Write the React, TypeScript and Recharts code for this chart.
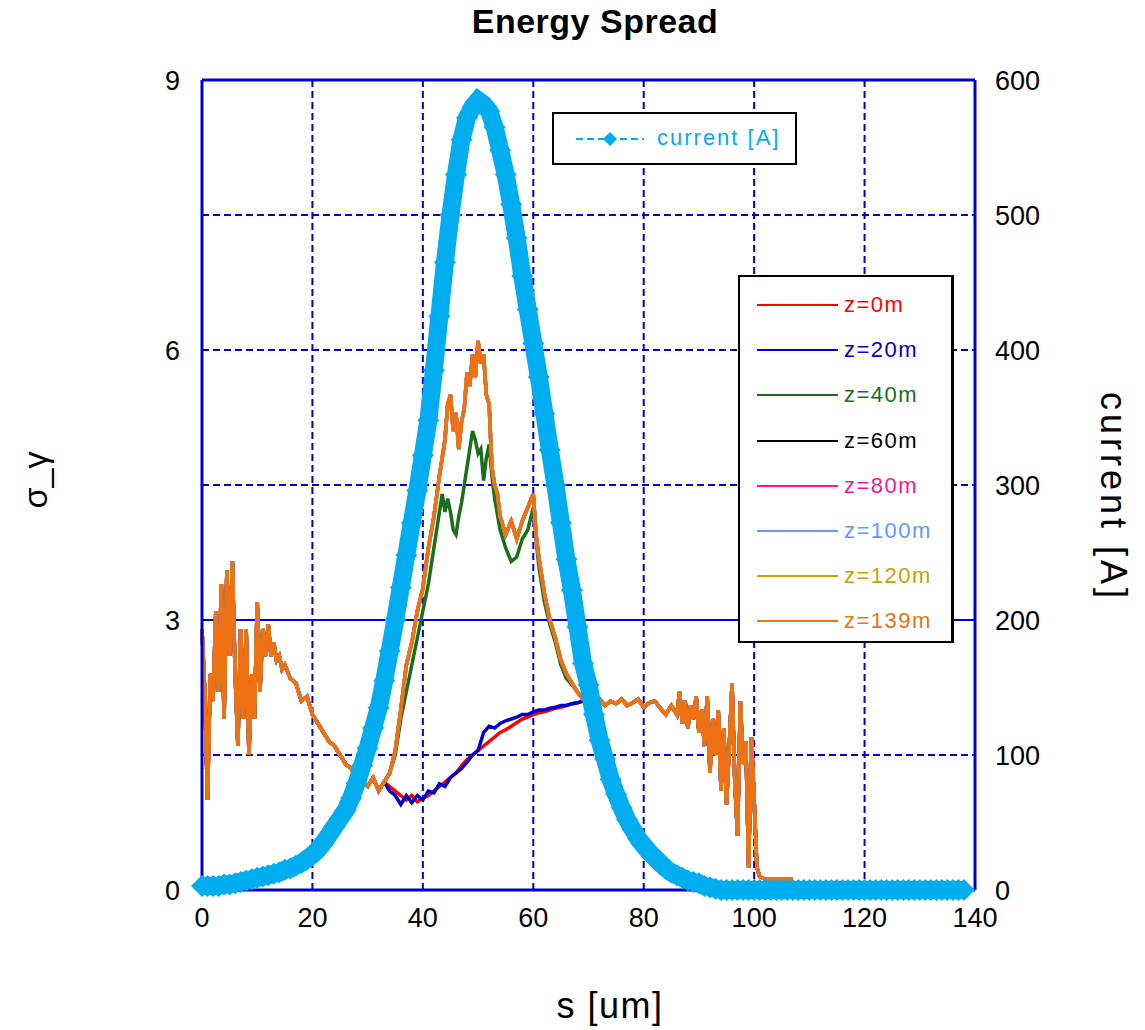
import React from 'react';
import { ComposedChart, Line, XAxis, YAxis, CartesianGrid, ReferenceLine } from 'recharts';

type Pt = [number, number];

// s [um] ticks and axis ticks
const sTicks = [0, 20, 40, 60, 80, 100, 120, 140];
const sigmaTicks = [0, 3, 6, 9];
const currentTicks = [0, 100, 200, 300, 400, 500, 600];

// energy spread, common to all z: head of the bunch (s 0..33)
const sigmaHead: Pt[] = [
  [0, 2.9], [0.5, 2.2], [1, 1.0], [1.5, 2.4], [2, 2.1], [2.5, 3.1], [3, 2.2], [3.5, 3.4],
  [4, 1.9], [4.5, 3.55], [5, 2.6], [5.5, 3.65], [6, 2.4], [6.5, 1.6], [7, 2.9], [7.5, 1.9],
  [8, 2.9], [8.5, 1.5], [9, 2.4], [9.5, 1.9], [10, 3.2], [10.5, 2.2], [11, 2.9], [11.5, 2.6],
  [12, 2.95], [12.5, 2.6], [13, 2.75], [13.5, 2.55], [14, 2.6], [14.5, 2.45], [15, 2.5],
  [16, 2.35], [17, 2.3], [18, 2.1], [19, 2.15], [20, 1.95], [21, 1.85], [22, 1.75], [23, 1.65],
  [24, 1.6], [25, 1.5], [26, 1.4], [27, 1.35], [28, 1.25], [29, 1.2], [30, 1.15], [31, 1.25],
  [32, 1.1], [33, 1.2],
];

// middle of the bunch (s 34..69), differs with z
const sigmaMid0: Pt[] = [
  [34, 1.15], [35, 1.1], [36, 1.05], [37, 1.0], [38, 1.05], [39, 0.98], [40, 1.02], [41, 1.05],
  [42, 1.1], [43, 1.15], [44, 1.2], [45, 1.25], [46, 1.3], [47, 1.38], [48, 1.45], [49, 1.5],
  [50, 1.55], [51, 1.6], [52, 1.65], [53, 1.7], [54, 1.75], [55, 1.78], [56, 1.82], [57, 1.86],
  [58, 1.9], [59, 1.92], [60, 1.95], [61, 1.97], [62, 1.98], [63, 2.0], [64, 2.02], [65, 2.03],
  [66, 2.05], [67, 2.07], [68, 2.08], [69, 2.1],
];

const sigmaMid20: Pt[] = [
  [34, 1.1], [35, 1.05], [36, 0.95], [37, 1.05], [38, 0.97], [39, 1.05], [40, 1.0], [41, 1.1],
  [42, 1.08], [43, 1.18], [44, 1.15], [45, 1.25], [46, 1.3], [47, 1.35], [48, 1.42], [49, 1.5],
  [50, 1.55], [51, 1.75], [52, 1.82], [53, 1.8], [54, 1.85], [55, 1.88], [56, 1.9], [57, 1.92],
  [58, 1.95], [59, 1.95], [60, 1.98], [61, 2.0], [62, 2.0], [63, 2.02], [64, 2.03], [65, 2.05],
  [66, 2.05], [67, 2.07], [68, 2.08], [69, 2.1],
];

const sigmaMid40: Pt[] = [
  [34, 1.3], [35, 1.5], [36, 1.9], [37, 2.2], [38, 2.5], [39, 2.8], [40, 3.1], [41, 3.4],
  [42, 3.8], [43, 4.2], [43.5, 4.4], [44, 4.2], [44.5, 4.35], [45, 4.2], [45.5, 4.0], [46, 3.95],
  [46.5, 4.15], [47, 4.3], [47.5, 4.5], [48, 4.7], [48.5, 4.9], [49, 5.1], [49.5, 5.0], [50, 4.85],
  [50.5, 4.9], [51, 4.55], [51.5, 4.8], [52, 4.95], [52.5, 4.6], [53, 4.35], [54, 4.0], [55, 3.8],
  [56, 3.65], [57, 3.7], [58, 3.9], [59, 4.0], [60, 4.25], [60.5, 3.9], [61, 3.6], [62, 3.2],
  [63, 2.95], [64, 2.75], [65, 2.5], [66, 2.35], [67, 2.28], [68, 2.2], [69, 2.12],
];

const sigmaMidHigh: Pt[] = [
  [34, 1.3], [35, 1.55], [36, 2.0], [37, 2.5], [38, 2.75], [39, 3.1], [40, 3.35], [41, 3.8],
  [42, 4.15], [43, 4.6], [44, 5.0], [44.5, 5.4], [45, 5.5], [45.5, 5.1], [46, 5.3], [46.5, 4.9],
  [47, 5.2], [47.5, 5.35], [48, 5.75], [48.5, 5.6], [49, 5.95], [49.5, 5.7], [50, 6.1], [50.5, 5.85],
  [51, 5.95], [51.5, 5.5], [52, 5.4], [52.5, 4.7], [53, 4.5], [53.5, 4.4], [54, 4.15], [55, 3.95],
  [56, 4.1], [57, 3.9], [58, 4.1], [59, 4.25], [60, 4.4], [60.5, 3.95], [61, 3.7], [62, 3.3],
  [63, 3.0], [64, 2.8], [65, 2.55], [66, 2.4], [67, 2.3], [68, 2.2], [69, 2.12],
];

// tail of the bunch (s 70..107), common to all z
const sigmaTail: Pt[] = [
  [70, 2.1], [71, 2.08], [72, 2.12], [73, 2.05], [74, 2.1], [75, 2.07], [76, 2.12], [77, 2.05],
  [78, 2.08], [79, 2.12], [80, 2.03], [81, 2.08], [82, 2.1], [83, 2.02], [84, 1.95], [85, 2.05],
  [86, 1.95], [86.5, 2.2], [87, 1.85], [87.5, 2.1], [88, 1.8], [88.5, 2.05], [89, 1.9], [89.5, 2.15],
  [90, 1.75], [90.5, 2.0], [91, 1.6], [91.5, 2.15], [92, 1.3], [92.5, 1.9], [93, 1.5], [93.5, 2.0],
  [94, 1.1], [94.5, 1.8], [95, 0.95], [95.5, 1.6], [96, 2.3], [96.5, 1.2], [97, 0.6], [97.5, 2.1],
  [98, 1.4], [98.5, 1.65], [99, 0.25], [99.5, 1.7], [100, 1.0], [100.5, 0.25], [101, 0.15],
  [102, 0.12], [103, 0.12], [104, 0.12], [105, 0.12], [106, 0.12], [107, 0.12],
];

// current [A] at s = 0, 1, 2, ... 138 um
const currentA = [
  3, 3, 3, 3, 4, 4, 5, 6, 7, 8, 9, 10, 11, 12, 13, 15, 16, 18, 20, 23,
  26, 30, 35, 41, 47, 53, 59, 68, 79, 92, 105, 120, 135, 155, 177, 200, 224, 248, 272, 296,
  322, 348, 385, 425, 465, 500, 530, 556, 572, 580, 585, 582, 577, 565, 548, 530, 508, 483, 455, 430,
  405, 380, 353, 326, 300, 272, 245, 222, 195, 168, 152, 130, 111, 97, 82, 71, 61, 52, 45, 38,
  33, 28, 24, 20, 16, 13, 11, 9, 7, 6, 5, 3, 2, 1, 0, 0, 0, 0, 0, 0,
  0, 0, 0, 0, 0, 0, 0, 0, 0, 0, 0, 0, 0, 0, 0, 0, 0, 0, 0, 0,
  0, 0, 0, 0, 0, 0, 0, 0, 0, 0, 0, 0, 0, 0, 0, 0, 0, 0, 0,
];

const zSeries = [
  { name: 'z=0m', color: '#FF0000', mid: sigmaMid0 },
  { name: 'z=20m', color: '#0000CC', mid: sigmaMid20 },
  { name: 'z=40m', color: '#1B6E1B', mid: sigmaMid40 },
  { name: 'z=60m', color: '#000000', mid: sigmaMidHigh },
  { name: 'z=80m', color: '#FF1493', mid: sigmaMidHigh },
  { name: 'z=100m', color: '#6699FF', mid: sigmaMidHigh },
  { name: 'z=120m', color: '#C9A200', mid: sigmaMidHigh },
  { name: 'z=139m', color: '#F07014', mid: sigmaMidHigh },
];

const CURRENT = '#00AEEF';
const GRID = '#0000CC';
const FONT = 'Arial, "Liberation Sans", sans-serif';

const currentData = currentA.map((v, i) => ({ s: i, v }));

const Diamond = (props: any) => {
  const { cx, cy, index } = props;
  if (cx == null || cy == null) return <g key={index} />;
  const r = 11;
  return (
    <polygon
      key={index}
      points={`${cx},${cy - r} ${cx + r},${cy} ${cx},${cy + r} ${cx - r},${cy}`}
      fill={CURRENT}
    />
  );
};

const App: React.FC = () => {
  return (
    <div style={{ position: 'absolute', left: 0, top: 0, width: 1145, height: 1030, background: '#fff', fontFamily: FONT }}>
      <ComposedChart width={1145} height={1030} margin={{ top: 80, right: 0, bottom: 0, left: 0 }}>
        <CartesianGrid yAxisId="right" stroke={GRID} strokeWidth={2} strokeDasharray="7 4" />
        <XAxis
          type="number"
          dataKey="s"
          domain={[0, 140]}
          ticks={sTicks}
          height={140}
          allowDuplicatedCategory={false}
          axisLine={{ stroke: GRID, strokeWidth: 3 }}
          tickLine={false}
          tickSize={0}
          tickMargin={18}
          tick={{ fontSize: 27, fill: '#000', fontFamily: FONT }}
        />
        <YAxis
          yAxisId="left"
          domain={[0, 9]}
          ticks={sigmaTicks}
          width={202}
          axisLine={{ stroke: GRID, strokeWidth: 3 }}
          tickLine={false}
          tickSize={0}
          tickMargin={22}
          tick={{ fontSize: 27, fill: '#000', fontFamily: FONT }}
        />
        <YAxis
          yAxisId="right"
          orientation="right"
          domain={[0, 600]}
          ticks={currentTicks}
          width={170}
          axisLine={{ stroke: GRID, strokeWidth: 3 }}
          tickLine={false}
          tickSize={0}
          tickMargin={20}
          tick={{ fontSize: 27, fill: '#000', fontFamily: FONT }}
        />
        <ReferenceLine yAxisId="left" y={9} stroke={GRID} strokeWidth={3} />
        <ReferenceLine yAxisId="left" y={3} stroke={GRID} strokeWidth={2} />
        {zSeries.map((z) => (
          <Line
            key={z.name}
            yAxisId="left"
            data={[...sigmaHead, ...z.mid, ...sigmaTail].map(([s, v]) => ({ s, v }))}
            dataKey="v"
            name={z.name}
            stroke={z.color}
            strokeWidth={3.5}
            dot={false}
            activeDot={false}
            isAnimationActive={false}
          />
        ))}
        <Line
          yAxisId="right"
          data={currentData}
          dataKey="v"
          name="current [A]"
          stroke={CURRENT}
          strokeWidth={18}
          dot={Diamond}
          activeDot={false}
          isAnimationActive={false}
        />
      </ComposedChart>

      <div style={{ position: 'absolute', left: 0, width: 1190, top: 2, textAlign: 'center', fontSize: 34, fontWeight: 'bold', letterSpacing: 0.5 }}>
        Energy Spread
      </div>
      <div style={{ position: 'absolute', left: 0, width: 1220, top: 985, textAlign: 'center', fontSize: 36, letterSpacing: 1.5 }}>
        s [um]
      </div>
      <div style={{ position: 'absolute', left: 35, top: 480, transform: 'translate(-50%, -50%) rotate(-90deg)', fontSize: 34, whiteSpace: 'nowrap' }}>
        σ_γ
      </div>
      <div style={{ position: 'absolute', left: 1113, top: 497, transform: 'translate(-50%, -50%) rotate(90deg)', fontSize: 36, letterSpacing: 4, whiteSpace: 'nowrap' }}>
        current [A]
      </div>

      <div style={{ position: 'absolute', left: 552, top: 112, width: 241, height: 49, border: '2px solid #000', background: '#fff', boxSizing: 'content-box' }}>
        <svg width={80} height={20} style={{ position: 'absolute', left: 22, top: 15 }}>
          <line x1={0} y1={10} x2={68} y2={10} stroke={CURRENT} strokeWidth={2} strokeDasharray="7 4" />
          <polygon points="34,3 41,10 34,17 27,10" fill={CURRENT} />
        </svg>
        <div style={{ position: 'absolute', left: 103, top: 11, fontSize: 22, letterSpacing: 2, color: CURRENT, whiteSpace: 'nowrap' }}>
          current [A]
        </div>
      </div>

      <div style={{ position: 'absolute', left: 738, top: 275, width: 211, height: 364, border: '2px solid #000', borderRightWidth: 3, background: '#fff' }}>
        {zSeries.map((z, i) => (
          <div key={z.name} style={{ position: 'absolute', left: 0, top: 28 + i * 45.2 - 14, height: 28, width: 211 }}>
            <div style={{ position: 'absolute', left: 17, top: 13, width: 81, height: 2, background: z.color }} />
            <div style={{ position: 'absolute', left: 104, top: 1, fontSize: 22, letterSpacing: 1.5, color: z.color, whiteSpace: 'nowrap' }}>
              {z.name}
            </div>
          </div>
        ))}
      </div>
    </div>
  );
};

export default App;
